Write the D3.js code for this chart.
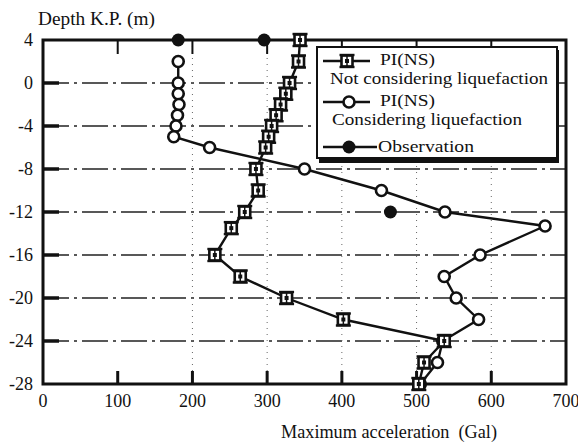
<!DOCTYPE html>
<html><head><meta charset="utf-8">
<script src="https://cdn.jsdelivr.net/npm/d3@7"></script>
<style>body{margin:0;background:#fff}svg{display:block}text{font-family:"Liberation Serif","Times New Roman",serif;fill:#111}</style>
</head><body>
<script>
const xTicks=[0,100,200,300,400,500,600,700];
const yTicks=[4,0,-4,-8,-12,-16,-20,-24,-28];
const ncDepth=[4,2,0,-1,-2,-3,-4,-5,-6,-8,-10,-12,-13.5,-16,-18,-20,-22,-24,-26,-28];
const ncAcc=[344,342,330,325,318,312,306,302,298,285,288,270,252,230,264,326,402,537,510,503];
const cDepth=[2,0,-1,-2,-3,-4,-5,-6,-8,-10,-12,-13.3,-16,-18,-20,-22,-24,-26,-28];
const cAcc=[181,181,181,182,180,178,175,223,350,453,538,672,585,537,553,583,535,528,505];
const obsDepth=[4,4,-12];
const obsAcc=[181,296,465];
const legendLabels=[["PI(NS)","Not considering liquefaction"],["PI(NS)","Considering liquefaction"],["Observation"]];

const W=578,H=446;
const svg=d3.select("body").append("svg").attr("width",W).attr("height",H);
const x=d3.scaleLinear().domain([0,700]).range([43,566]);
const y=d3.scaleLinear().domain([4,-28]).range([40,384]);
const L=x(0),R=x(700),T=y(4),B=y(-28);

// grid
const g=svg.append("g");
g.selectAll(".hg").data(yTicks.filter(d=>d<4&&d>-28)).join("line")
 .attr("x1",L).attr("x2",R).attr("y1",d=>y(d)).attr("y2",d=>y(d))
 .attr("stroke","#222").attr("stroke-width",1.6).attr("stroke-dasharray","26,5,3,5");
g.selectAll(".vg").data(xTicks.filter(d=>d>100&&d<700)).join("line")
 .attr("x1",d=>x(d)).attr("x2",d=>x(d)).attr("y1",T).attr("y2",B)
 .attr("stroke","#666").attr("stroke-width",1).attr("stroke-dasharray","1,5");
// inward ticks
g.selectAll(".tt").data(xTicks.filter(d=>d>0&&d<700)).join("line")
 .attr("x1",d=>x(d)).attr("x2",d=>x(d)).attr("y1",T).attr("y2",T+14).attr("stroke","#111").attr("stroke-width",2);
g.selectAll(".bt").data(xTicks.filter(d=>d>0&&d<700)).join("line")
 .attr("x1",d=>x(d)).attr("x2",d=>x(d)).attr("y1",B).attr("y2",B-13).attr("stroke","#111").attr("stroke-width",3);
g.selectAll(".lt").data(yTicks.filter(d=>d<4&&d>-28)).join("line")
 .attr("x1",L).attr("x2",L+16).attr("y1",d=>y(d)).attr("y2",d=>y(d)).attr("stroke","#111").attr("stroke-width",3.5);
// frame
svg.append("rect").attr("x",L).attr("y",T).attr("width",R-L).attr("height",B-T).attr("fill","none").attr("stroke","#111").attr("stroke-width",3);

// tick labels
svg.selectAll(".xl").data(xTicks).join("text").attr("x",d=>x(d)).attr("y",407).attr("text-anchor","middle").attr("font-size",18).text(d=>d);
svg.selectAll(".yl").data(yTicks).join("text").attr("x",L-10).attr("y",d=>y(d)+6).attr("text-anchor","end").attr("font-size",18).text(d=>d);
svg.append("text").attr("x",38).attr("y",25).attr("font-size",18).attr("textLength",117).attr("lengthAdjust","spacingAndGlyphs").text("Depth K.P. (m)");
svg.append("text").attr("x",281).attr("y",438).attr("font-size",18).attr("textLength",216).attr("lengthAdjust","spacingAndGlyphs").style("white-space","pre").text("Maximum acceleration  (Gal)");

// series
const line=d3.line();
const nc=ncAcc.map((v,i)=>[x(v),y(ncDepth[i])]);
const cc=cAcc.map((v,i)=>[x(v),y(cDepth[i])]);
const ob=obsAcc.map((v,i)=>[x(v),y(obsDepth[i])]);
svg.append("path").attr("d",line(nc)).attr("fill","none").attr("stroke","#111").attr("stroke-width",2.4);
svg.append("path").attr("d",line(cc)).attr("fill","none").attr("stroke","#111").attr("stroke-width",2.4);

function sqMarker(sel,px,py){
  const m=sel.append("g").attr("transform",`translate(${px},${py})`);
  m.append("rect").attr("x",-5.5).attr("y",-5.5).attr("width",11).attr("height",11).attr("fill","#fff").attr("stroke","#111").attr("stroke-width",2.6);
  m.append("rect").attr("x",-2).attr("y",-2).attr("width",4).attr("height",4).attr("fill","#111");
  m.append("line").attr("x1",-7.5).attr("x2",7.5).attr("y1",-6).attr("y2",-6).attr("stroke","#111").attr("stroke-width",2.4);
  m.append("line").attr("x1",-7.5).attr("x2",7.5).attr("y1",6).attr("y2",6).attr("stroke","#111").attr("stroke-width",2.4);
  m.append("line").attr("x1",0).attr("x2",0).attr("y1",-5.5).attr("y2",5.5).attr("stroke","#111").attr("stroke-width",1.5);
}
function openC(sel,px,py){sel.append("circle").attr("cx",px).attr("cy",py).attr("r",5.5).attr("fill","#fff").attr("stroke","#111").attr("stroke-width",2.6);}
function fillC(sel,px,py){sel.append("circle").attr("cx",px).attr("cy",py).attr("r",6.5).attr("fill","#111");}

cc.forEach(p=>openC(svg,p[0],p[1]));
nc.forEach(p=>sqMarker(svg,p[0],p[1]));
ob.forEach(p=>fillC(svg,p[0],p[1]));

// legend
const lg=svg.append("g");
lg.append("rect").attr("x",319).attr("y",50).attr("width",240).attr("height",113).attr("fill","#111");
lg.append("rect").attr("x",317).attr("y",47).attr("width",240).attr("height",111).attr("fill","#fff").attr("stroke","#111").attr("stroke-width",2);
const rows=[61,102,147];
rows.forEach((ry,i)=>{
  lg.append("line").attr("x1",323).attr("x2",i==2?377:370).attr("y1",ry).attr("y2",ry).attr("stroke","#111").attr("stroke-width",2.4);
});
sqMarker(lg,347,rows[0]);
openC(lg,349,rows[1]);
fillC(lg,349,rows[2]);
lg.append("text").attr("x",380).attr("y",65).attr("font-size",16).attr("textLength",55).attr("lengthAdjust","spacingAndGlyphs").text(legendLabels[0][0]);
lg.append("text").attr("x",330).attr("y",84).attr("font-size",16).attr("textLength",218).attr("lengthAdjust","spacingAndGlyphs").text(legendLabels[0][1]);
lg.append("text").attr("x",380).attr("y",106).attr("font-size",16).attr("textLength",55).attr("lengthAdjust","spacingAndGlyphs").text(legendLabels[1][0]);
lg.append("text").attr("x",332).attr("y",125).attr("font-size",16).attr("textLength",190).attr("lengthAdjust","spacingAndGlyphs").text(legendLabels[1][1]);
lg.append("text").attr("x",378).attr("y",152).attr("font-size",17).attr("textLength",96).attr("lengthAdjust","spacingAndGlyphs").text(legendLabels[2][0]);
</script>
</body></html>
